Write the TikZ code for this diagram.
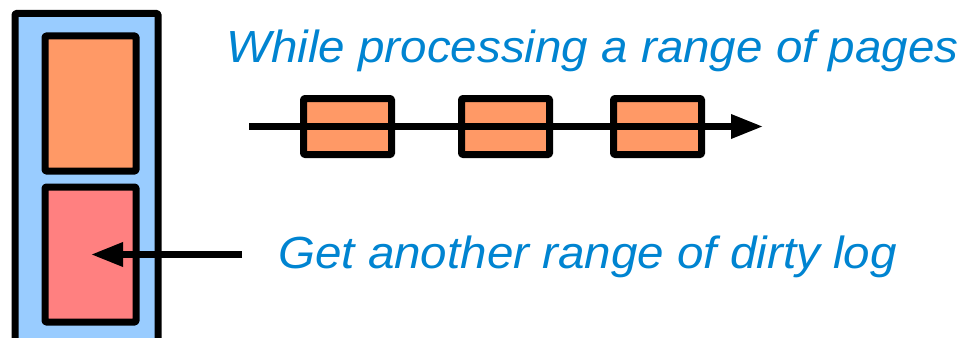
\documentclass[tikz,border=0pt]{standalone}
\usepackage{fontspec}
\setmainfont{Liberation Sans}
\usetikzlibrary{arrows.meta}
\definecolor{boxblue}{HTML}{99CCFF}
\definecolor{boxorange}{HTML}{FF9966}
\definecolor{boxred}{HTML}{FF8080}
\definecolor{txtblue}{HTML}{0084D1}
\begin{document}
\begin{tikzpicture}[x=1pt,y=-1pt,
  box/.style={draw=black,line width=7pt,line join=round,rounded corners=1pt,inner sep=0pt,outer sep=0pt},
  ptr/.style={line width=6.5pt,-{Triangle[length=32pt,width=23pt]}},
  lbl/.style={text=txtblue,font=\fontsize{45}{50}\selectfont\itshape,anchor=base west,inner sep=0pt,xscale=1.057,transform shape}]
\useasboundingbox (0,0) rectangle (965,337);
\clip (0,0) rectangle (965,337);
% left column
\node[box,fill=boxblue,minimum width=143pt,minimum height=346pt] (col) at (86.5,186.5) {};
\node[box,fill=boxorange,minimum width=91pt,minimum height=135pt] (upper) at (90.5,103.5) {};
\node[box,fill=boxred,minimum width=91pt,minimum height=135pt] (lower) at (90.5,254.5) {};
% pages being processed
\node[box,fill=boxorange,minimum width=88pt,minimum height=56pt] (p1) at (347.5,126.5) {};
\node[box,fill=boxorange,minimum width=88pt,minimum height=56pt] (p2) at (505.5,126.5) {};
\node[box,fill=boxorange,minimum width=88pt,minimum height=56pt] (p3) at (657.5,126.5) {};
\coordinate (s1) at (249,126.5);
\coordinate (e1) at (763,126.5);
\draw[ptr] (s1) -- (e1);
% get another range
\coordinate (s2) at (242,254.5);
\coordinate (e2) at (91,254.5);
\draw[ptr] (s2) -- (e2);
% labels
\node[lbl] (t1) at (226,63) {While processing a range of pages};
\node[lbl] (t2) at (278,268) {Get another range of dirty log};
\end{tikzpicture}
\end{document}
